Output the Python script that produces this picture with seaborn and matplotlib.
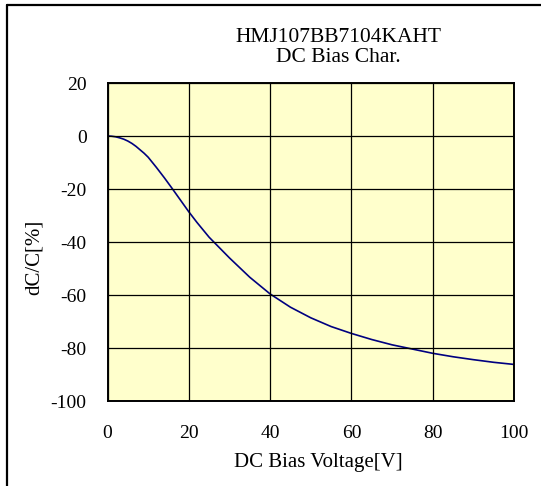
import numpy as np
import pandas as pd
import matplotlib
matplotlib.use("Agg")
import matplotlib.pyplot as plt
from matplotlib.lines import Line2D
import seaborn as sns

# --- data ---
bias_v = [0, 1, 2, 3, 4, 5, 6, 7, 8, 9, 10, 12, 14, 16, 18, 20, 22, 25, 30,
          35, 40, 45, 50, 55, 60, 65, 70, 75, 80, 85, 90, 95, 100]
dcap_pct = [0, -0.08, -0.3, -0.7, -1.2, -1.9, -2.8, -3.9, -5.2, -6.5, -8.0,
            -11.8, -15.8, -20.0, -24.3, -28.6, -32.6, -38.2, -46.0, -53.3,
            -59.6, -64.6, -68.6, -71.9, -74.5, -76.8, -78.8, -80.4, -82.0,
            -83.3, -84.4, -85.4, -86.2]
x_ticks = [0, 20, 40, 60, 80, 100]
y_ticks = [-100, -80, -60, -40, -20, 0, 20]
title_lines = ["HMJ107BB7104KAHT", "DC Bias Char."]

df = pd.DataFrame({"v": bias_v, "dc": dcap_pct})

sns.set_style("white")
plt.rcParams["font.family"] = ["Liberation Serif", "DejaVu Serif"]
plt.rcParams["text.color"] = "black"
plt.rcParams["axes.labelcolor"] = "black"
plt.rcParams["xtick.color"] = "black"
plt.rcParams["ytick.color"] = "black"
plt.rcParams["axes.unicode_minus"] = False

fig = plt.figure(figsize=(5.41, 4.86), dpi=100)
ax = fig.add_axes([107.5 / 541, 1 - 401 / 486, 406.5 / 541, 318 / 486])
ax.set_facecolor("#FFFFCC")

sns.lineplot(data=df, x="v", y="dc", ax=ax, color="#000080", linewidth=1.2)

ax.set_xlim(0, 100)
ax.set_ylim(-100, 20)
ax.set_xticks(x_ticks)
ax.set_yticks(y_ticks)
ax.grid(True, color="black", linewidth=0.9)
ax.set_axisbelow(False)
for s in ax.spines.values():
    s.set_color("black")
    s.set_linewidth(1.4)
ax.tick_params(axis="both", labelsize=14, length=2, width=0.9,
               color="black", direction="out")
ax.tick_params(axis="x", pad=15)
ax.tick_params(axis="y", pad=13)

ax.set_xlabel("DC Bias Voltage[V]", fontsize=15)
ax.set_ylabel("dC/C[%]", fontsize=15)
ax.xaxis.set_label_coords(0.518, -0.162)
ax.yaxis.set_label_coords(-0.158, 0.453)

fig.text(338 / 541, 1 - 37 / 486, title_lines[0], ha="center", va="center",
         fontsize=15.5)
fig.text(338 / 541, 1 - 57 / 486, title_lines[1], ha="center", va="center",
         fontsize=15.5)

# frame lines at the left and top of the picture
fig.add_artist(Line2D([6.5 / 541, 6.5 / 541], [0, 1 - 5 / 486],
                      transform=fig.transFigure, color="black", linewidth=1.6))
fig.add_artist(Line2D([6.5 / 541, 1], [1 - 5 / 486, 1 - 5 / 486],
                      transform=fig.transFigure, color="black", linewidth=1.6))

fig.savefig("out.png", dpi=100)
